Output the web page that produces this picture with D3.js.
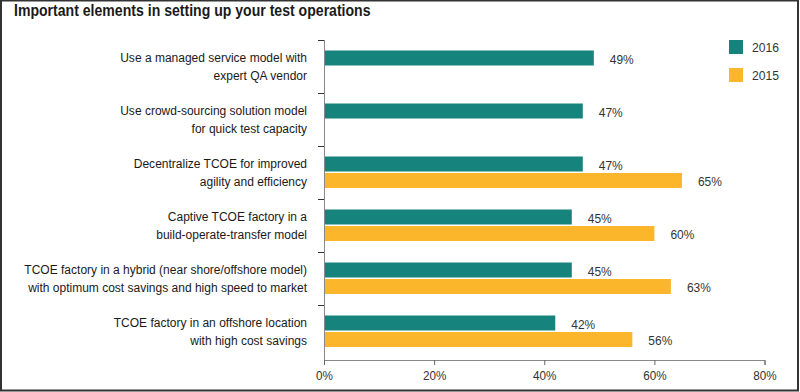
<!DOCTYPE html>
<html>
<head>
<meta charset="utf-8">
<script src="https://cdn.jsdelivr.net/npm/d3@7"></script>
<style>
  body { margin: 0; background: #fff; }
  svg { display: block; font-family: "Liberation Sans", Arial, sans-serif; }
</style>
</head>
<body>
<svg width="800" height="392"></svg>
<script>
var categories = [
    ['Use a managed service model with', 'expert QA vendor'],
    ['Use crowd-sourcing solution model', 'for quick test capacity'],
    ['Decentralize TCOE for improved', 'agility and efficiency'],
    ['Captive TCOE factory in a', 'build-operate-transfer model'],
    ['TCOE factory in a hybrid (near shore/offshore model)', 'with optimum cost savings and high speed to market'],
    ['TCOE factory in an offshore location', 'with high cost savings']
];
var values2016 = [49, 47, 47, 45, 45, 42];
var values2015 = [null, null, 65, 60, 63, 56];
var seriesNames = ['2016', '2015'];
var xTicks = [0, 20, 40, 60, 80];

var colors = ['#16837d', '#fbb62b'];

var svg = d3.select('svg');

// frame
svg.append('rect')
    .attr('x', 1).attr('y', 0.5)
    .attr('width', 797).attr('height', 390)
    .attr('fill', 'none')
    .attr('stroke', '#333')
    .attr('stroke-width', 2);

// the original uses a condensed face, so squeeze the text horizontally
function squeeze(sel, x, y, sx) {
    return sel.attr('x', 0).attr('y', 0)
        .attr('transform', 'translate(' + x + ',' + y + ') scale(' + sx + ',1)');
}

svg.append('text')
    .call(squeeze, 14, 16, 0.88)
    .attr('font-size', 16)
    .attr('font-weight', 'bold')
    .attr('fill', '#1a1a1a')
    .text('Important elements in setting up your test operations');

var x = d3.scaleLinear().domain([0, 80]).range([324, 764.5]);
var y = d3.scaleBand().domain(d3.range(categories.length)).range([40, 358]);

var barH = 15;
var barTop = 10.5;

// bars
var series = [values2016, values2015];
series.forEach((vals, s) => {
    var g = svg.append('g');
    var rows = vals.map((v, i) => ({v: v, i: i})).filter(d => d.v != null);
    g.selectAll('rect')
        .data(rows)
        .enter().append('rect')
        .attr('x', x(0))
        .attr('y', d => y(d.i) + barTop + s * (barH + 1.5))
        .attr('width', d => x(d.v) - x(0))
        .attr('height', barH)
        .attr('fill', colors[s]);
    g.selectAll('text')
        .data(rows)
        .enter().append('text')
        .each(function(d) {
            squeeze(d3.select(this), x(d.v) + 16, y(d.i) + barTop + s * (barH + 1.5) + barH / 2 + 1, 0.92);
        })
        .attr('dy', '0.35em')
        .attr('font-size', 13)
        .attr('fill', '#333')
        .text(d => d.v + '%');
});

// y axis
var yAxis = svg.append('g');
yAxis.append('line')
    .attr('x1', 324.5).attr('x2', 324.5)
    .attr('y1', 40).attr('y2', 360)
    .attr('stroke', '#888');
yAxis.selectAll('line.tk')
    .data(d3.range(categories.length))
    .enter().append('line')
    .attr('class', 'tk')
    .attr('x1', 318).attr('x2', 324)
    .attr('y1', d => Math.round(y(d)) + 0.5)
    .attr('y2', d => Math.round(y(d)) + 0.5)
    .attr('stroke', '#333');

var labels = yAxis.selectAll('text')
    .data(categories)
    .enter().append('text')
    .each(function(d, i) {
        squeeze(d3.select(this), 307, y(i) + y.bandwidth() / 2, 0.89);
    })
    .attr('text-anchor', 'end')
    .attr('font-size', 13.5)
    .attr('fill', '#1a1a1a');
labels.selectAll('tspan')
    .data(d => d)
    .enter().append('tspan')
    .attr('x', 0)
    .attr('dy', (d, j) => j === 0 ? '-0.3em' : '1.3em')
    .text(d => d);

// x axis
var xAxis = svg.append('g')
    .attr('transform', 'translate(0,360)')
    .call(d3.axisBottom(x).tickValues(xTicks).tickSize(5).tickPadding(6).tickFormat(d => d + '%'));
xAxis.select('.domain').attr('stroke', '#888');
xAxis.selectAll('.tick line').attr('stroke', '#666');
xAxis.selectAll('text')
    .attr('font-size', 13).attr('fill', '#333').attr('font-family', null)
    .attr('transform', 'scale(0.9,1)');

// legend
var legend = svg.append('g');
seriesNames.forEach((name, s) => {
    legend.append('rect')
        .attr('x', 729).attr('y', 40 + s * 28)
        .attr('width', 14).attr('height', 14)
        .attr('fill', colors[s]);
    legend.append('text')
        .call(squeeze, 752, 47 + s * 28, 0.9)
        .attr('dy', '0.35em')
        .attr('font-size', 13.5)
        .attr('fill', '#333')
        .text(name);
});
</script>
</body>
</html>
